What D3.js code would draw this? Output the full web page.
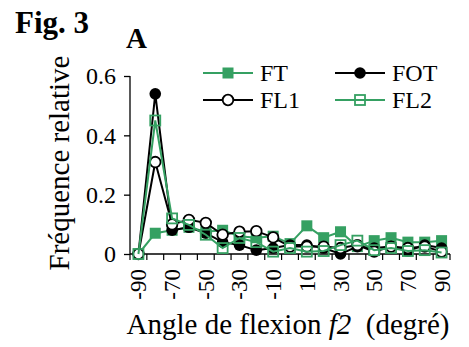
<!DOCTYPE html>
<html><head><meta charset="utf-8">
<script src="https://cdn.jsdelivr.net/npm/d3@7/dist/d3.min.js"></script>
<style>body{margin:0;background:#fff}svg{display:block}</style>
</head><body><svg id="c" width="469" height="347"></svg>
<script>
const categories = [-90,-80,-70,-60,-50,-40,-30,-20,-10,0,10,20,30,40,50,60,70,80,90];
const tickLabels = ["-90","-70","-50","-30","-10","10","30","50","70","90"];
const yTicks = [0,0.2,0.4,0.6];
const seriesNames = ["FT","FOT","FL1","FL2"];
const FT  = [0,0.07,0.08,0.09,0.075,0.08,0.06,0.055,0.06,0.035,0.095,0.055,0.075,0.025,0.045,0.055,0.04,0.04,0.045];
const FOT = [0,0.54,0.08,0.09,0.07,0.04,0.03,0.013,0.02,0.03,0.03,0.02,0.0,0.025,0.02,0.025,0.01,0.03,0.02];
const FL1 = [0,0.31,0.10,0.115,0.105,0.065,0.075,0.077,0.056,0.025,0.025,0.025,0.02,0.03,0.008,0.025,0.02,0.025,0.008];
const FL2 = [0,0.45,0.12,0.098,0.065,0.02,0.054,0.04,0.008,0.02,0.008,0.01,0.03,0.045,0.013,0.02,0.01,0.013,0.005];

const FONT = "Liberation Serif";
const green = "#35a062";
const svg = d3.select("#c");
const x = d3.scaleBand().domain(categories).range([130,450]).padding(0);
const y = d3.scaleLinear().domain([0,0.6]).range([254,76]);

// axes
const yAxis = svg.append("g").attr("transform","translate(130,0)")
  .call(d3.axisLeft(y).tickValues(yTicks).tickSize(6).tickPadding(8).tickFormat(d=>d===0?"0":d3.format(".1f")(d)));
yAxis.attr("font-family",FONT).attr("font-size",24);
yAxis.select(".domain").attr("stroke","#000").attr("stroke-width",1.3).attr("d","M0,76V254");
yAxis.selectAll("line").attr("stroke","#000").attr("stroke-width",1.3);
yAxis.selectAll("text").attr("fill","#000");

const xg = svg.append("g").attr("transform","translate(0,254)").attr("font-family",FONT);
xg.append("line").attr("x1",130).attr("x2",450).attr("stroke","#000").attr("stroke-width",1.3);
xg.selectAll("line.t").data(d3.range(categories.length+1)).join("line").attr("class","t")
  .attr("x1",i=>130+i*x.bandwidth()).attr("x2",i=>130+i*x.bandwidth())
  .attr("y1",0).attr("y2",6).attr("stroke","#000").attr("stroke-width",1.2);
xg.selectAll("text").data(tickLabels).join("text")
  .attr("transform",d=>`translate(${x(+d)+x.bandwidth()/2+8},15) rotate(-90)`)
  .attr("text-anchor","end").attr("font-size",23).text(d=>d);

// lines and markers
const data = {FT,FOT,FL1,FL2};
const colors = {FT:green,FOT:"#000",FL1:"#000",FL2:green};
const cx = (d,i)=>x(categories[i])+x.bandwidth()/2;
const line = d3.line().x((d,i)=>cx(d,i)).y(d=>y(d));
function marker(g,name,px,py){
  if(name==="FT") g.append("rect").attr("x",px-5.5).attr("y",py-5.5).attr("width",11).attr("height",11).attr("fill",green);
  if(name==="FOT") g.append("circle").attr("cx",px).attr("cy",py).attr("r",5.8).attr("fill","#000");
  if(name==="FL1") g.append("circle").attr("cx",px).attr("cy",py).attr("r",5.3).attr("fill","#fff").attr("stroke","#000").attr("stroke-width",1.8);
  if(name==="FL2") g.append("rect").attr("x",px-5).attr("y",py-5).attr("width",10).attr("height",10).attr("fill","none").attr("stroke",green).attr("stroke-width",1.8);
}
seriesNames.forEach(name=>{
  const g = svg.append("g");
  g.append("path").datum(data[name]).attr("d",line).attr("fill","none").attr("stroke",colors[name]).attr("stroke-width",2);
  data[name].forEach((v,i)=>marker(g,name,cx(v,i),y(v)));
});

// legend
const legPos = {FT:[203,73],FOT:[335,73],FL1:[203,100],FL2:[335,100]};
seriesNames.forEach(name=>{
  const [lx,ly] = legPos[name];
  const g = svg.append("g");
  g.append("line").attr("x1",lx).attr("x2",lx+50).attr("y1",ly).attr("y2",ly).attr("stroke",colors[name]).attr("stroke-width",2);
  marker(g,name,lx+25,ly);
  g.append("text").attr("x",lx+57).attr("y",ly+8).attr("font-family",FONT).attr("font-size",24).text(name);
});

// titles
svg.append("text").attr("x",15).attr("y",33).attr("font-family",FONT).attr("font-size",31).attr("font-weight","bold").text("Fig. 3");
svg.append("text").attr("x",126).attr("y",48).attr("font-family",FONT).attr("font-size",29).attr("font-weight","bold").text("A");
svg.append("text").attr("transform","translate(69,163) rotate(-90)").attr("font-family",FONT).attr("text-anchor","middle").attr("font-size",29).text("Fréquence relative");
const xt = svg.append("text").attr("x",288).attr("y",334).attr("font-family",FONT).attr("text-anchor","middle").attr("font-size",29);
xt.append("tspan").text("Angle de flexion ");
xt.append("tspan").attr("font-style","italic").text("f2");
xt.append("tspan").text("\u00a0 (degré)");
</script></body></html>
